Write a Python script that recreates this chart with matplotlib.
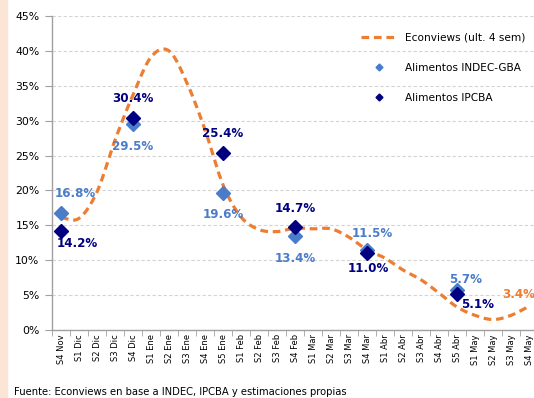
import numpy as np
import matplotlib
matplotlib.use("Agg")
import matplotlib.pyplot as plt
from matplotlib.patches import Rectangle

# categories (weeks)
weeks = ["S4 Nov", "S1 Dic", "S2 Dic", "S3 Dic", "S4 Dic",
         "S1 Ene", "S2 Ene", "S3 Ene", "S4 Ene", "S5 Ene",
         "S1 Feb", "S2 Feb", "S3 Feb", "S4 Feb",
         "S1 Mar", "S2 Mar", "S3 Mar", "S4 Mar",
         "S1 Abr", "S2 Abr", "S3 Abr", "S4 Abr", "S5 Abr",
         "S1 May", "S2 May", "S3 May", "S4 May"]

# Econviews (last 4 weeks), % annualised
econviews = [16.1, 16.0, 19.8, 27.2, 33.7, 39.1, 40.0, 35.4, 28.7, 20.8,
             16.2, 14.4, 14.1, 14.6, 14.5, 14.5, 13.3, 11.5, 10.3, 8.6,
             7.2, 5.3, 3.3, 2.1, 1.5, 2.1, 3.4]

# monthly points
point_weeks = ["S4 Nov", "S4 Dic", "S5 Ene", "S4 Feb", "S4 Mar", "S5 Abr"]
indec_gba = [16.8, 29.5, 19.6, 13.4, 11.5, 5.7]
ipcba = [14.2, 30.4, 25.4, 14.7, 11.0, 5.1]

ORANGE = "#ED7D31"
LIGHT = "#4A7CC9"
NAVY = "#000080"


def smooth(xs, ys, n=12):
    # catmull-rom style curve through the points (like excel "smoothed line")
    xs = np.asarray(xs, float)
    ys = np.asarray(ys, float)
    px = np.concatenate([[2 * xs[0] - xs[1]], xs, [2 * xs[-1] - xs[-2]]])
    py = np.concatenate([[2 * ys[0] - ys[1]], ys, [2 * ys[-1] - ys[-2]]])
    outx, outy = [], []
    t = np.linspace(0, 1, n, endpoint=False)
    for i in range(1, len(px) - 2):
        for arr, out in ((px, outx), (py, outy)):
            p0, p1, p2, p3 = arr[i - 1], arr[i], arr[i + 1], arr[i + 2]
            out.extend(0.5 * ((2 * p1) + (-p0 + p2) * t
                              + (2 * p0 - 5 * p1 + 4 * p2 - p3) * t ** 2
                              + (-p0 + 3 * p1 - 3 * p2 + p3) * t ** 3))
    outx.append(xs[-1])
    outy.append(ys[-1])
    return np.array(outx), np.array(outy)


fig = plt.figure(figsize=(5.34, 3.98), dpi=100)
fig.patches.append(Rectangle((0, 0), 7 / 534, 1, transform=fig.transFigure,
                             color="#FBE5D6", zorder=0))

ax = fig.add_axes([52 / 534, 68 / 398, 486 / 534, 314 / 398])

x = np.arange(len(weeks))
sx, sy = smooth(x, econviews)
line, = ax.plot(sx, sy, color=ORANGE, lw=2.3, dash_capstyle="butt",
                label="Econviews (ult. 4 sem)", zorder=3)
line.set_dashes([2.4, 1.5])

px = [weeks.index(w) for w in point_weeks]
ax.plot(px, indec_gba, ls="none", marker="D", ms=7, color=LIGHT,
        label="Alimentos INDEC-GBA", zorder=4)
ax.plot(px, ipcba, ls="none", marker="D", ms=7, color=NAVY,
        label="Alimentos IPCBA", zorder=5)

# data labels (offsets in pixels)
light_off = [(14, 19), (0, -22), (0, -21), (0, -22), (5, 16), (9, 11)]
navy_off = [(16, -13), (0, 19), (0, 19), (0, 19), (1, -15), (21, -10)]
for xi, v, off in zip(px, indec_gba, light_off):
    ax.annotate(f"{v:.1f}%", (xi, v), xytext=off, textcoords="offset pixels",
                ha="center", va="center", color=LIGHT, fontsize=8.6,
                fontweight="bold", zorder=6)
for xi, v, off in zip(px, ipcba, navy_off):
    ax.annotate(f"{v:.1f}%", (xi, v), xytext=off, textcoords="offset pixels",
                ha="center", va="center", color=NAVY, fontsize=8.6,
                fontweight="bold", zorder=6)
ax.annotate(f"{econviews[-1]:.1f}%", (x[-1], econviews[-1]), xytext=(-10, 12),
            textcoords="offset pixels", ha="center", va="center",
            color=ORANGE, fontsize=8.6, fontweight="bold", zorder=6)

ax.set_xlim(-0.5, len(weeks) - 0.5)
ax.set_ylim(0, 45)
ax.set_yticks(np.arange(0, 46, 5))
ax.set_yticklabels([f"{v}%" for v in range(0, 46, 5)], fontsize=7.8)
ax.yaxis.grid(True, color="#D4D4D4", ls=(0, (3, 2)), lw=0.8)
ax.set_axisbelow(True)

ax.set_xticks(x)
ax.set_xticklabels(weeks, rotation=90, fontsize=6.0,
                   family=["Liberation Sans Narrow", "DejaVu Sans"])
ax.set_xticks(np.arange(-0.5, len(weeks)), minor=True)
ax.tick_params(axis="x", which="major", length=0, pad=3)
ax.tick_params(axis="x", which="minor", length=4, color="#A0A0A0")
ax.tick_params(axis="y", length=5, color="#A0A0A0", pad=4)

for s in ("top", "right"):
    ax.spines[s].set_visible(False)
for s in ("left", "bottom"):
    ax.spines[s].set_color("#A0A0A0")
    ax.spines[s].set_linewidth(1.0)

leg = ax.legend(loc="upper left", bbox_to_anchor=(361 / 534, 1 - 33 / 398),
                bbox_transform=fig.transFigure, frameon=False, fontsize=7.6,
                handlelength=3.4, handletextpad=0.75, labelspacing=1.9,
                borderpad=0, borderaxespad=0, markerscale=0.5)

fig.text(14 / 534, 1 - 392 / 398,
         "Fuente: Econviews en base a INDEC, IPCBA y estimaciones propias",
         fontsize=7.2, va="center", ha="left")

fig.savefig("out.png", dpi=100)
